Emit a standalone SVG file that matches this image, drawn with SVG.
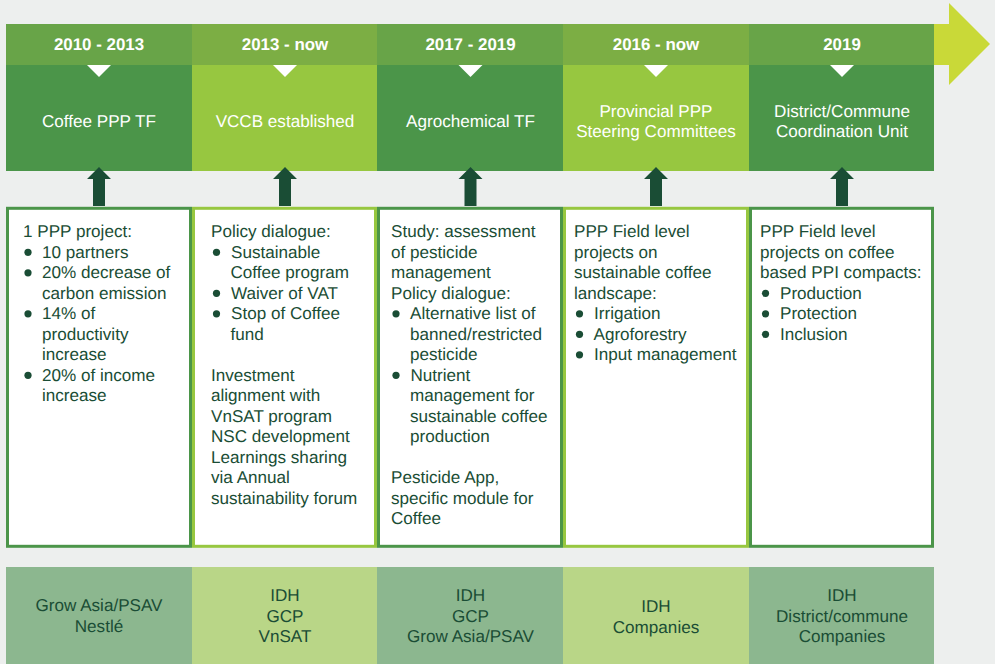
<svg xmlns="http://www.w3.org/2000/svg" width="995" height="664" viewBox="0 0 995 664">
<defs>
<style>
text{font-family:"Liberation Sans",Arial,sans-serif;text-rendering:geometricPrecision}
.yr{font-size:16.9px;font-weight:bold;fill:#fff;text-anchor:middle}
.ttl{font-size:17.100px;fill:#fff;text-anchor:middle}
.b{font-size:17.100px;fill:#1a4d35}
.c{font-size:17.100px;fill:#1a4d35;text-anchor:middle}
.dg{fill:#4b9549}.lg{fill:#97c740}
.hd{fill:#68a448}.hl{fill:#7cae44}
.bd{fill:#fff;stroke:#4b9549;stroke-width:3}
.bl{fill:#fff;stroke:#97c740;stroke-width:3}
.pd{fill:#8cb78f}.pl{fill:#b9d687}
.dot{fill:#1a4d35}
</style>
<path id="arr" d="M-6 206V179H-12L0 167L12 179H6V206Z" fill="#1a4d35"/>
<path id="tri" d="M-12 65H12L0 77Z" fill="#fff"/>
</defs>
<rect width="995" height="664" fill="#edefee"/>
<path id="timeline-arrow" d="M934 24H949V3L990 44L949 85V65H934Z" fill="#c9d938"/>
<g id="col1">
<rect class="hd" x="6" y="24" width="186" height="41"/><rect class="dg" x="6" y="65" width="186" height="106"/>
<use href="#tri" x="99"/>
<text class="yr" x="99" y="49.500">2010 - 2013</text>
<text class="ttl" x="99" y="127">Coffee PPP TF</text>
<rect class="bd" x="7.500" y="208.300" width="183" height="338"/>
<text class="b" x="23" y="237">1 PPP project:</text>
<circle class="dot" cx="28" cy="252.300" r="3.600"/><text class="b" x="42" y="257.500">10 partners</text>
<circle class="dot" cx="28" cy="272.800" r="3.600"/><text class="b" x="42" y="278">20% decrease of</text>
<text class="b" x="42" y="298.500">carbon emission</text>
<circle class="dot" cx="28" cy="313.800" r="3.600"/><text class="b" x="42" y="319">14% of</text>
<text class="b" x="42" y="339.500">productivity</text>
<text class="b" x="42" y="360">increase</text>
<circle class="dot" cx="28" cy="375.300" r="3.600"/><text class="b" x="42" y="380.500">20% of income</text>
<text class="b" x="42" y="401">increase</text>
<rect class="pd" x="6" y="567" width="186" height="97"/>
<text class="c" x="99" y="611">Grow Asia/PSAV</text><text class="c" x="99" y="632">Nestlé</text>
</g>
<g id="col2">
<rect class="hl" x="192" y="24" width="185" height="41"/><rect class="lg" x="192" y="65" width="185" height="106"/>
<use href="#tri" x="285"/>
<text class="yr" x="285" y="49.500">2013 - now</text>
<text class="ttl" x="285" y="127">VCCB established</text>
<rect class="bl" x="193.500" y="208.300" width="182" height="338"/>
<text class="b" x="211" y="237">Policy dialogue:</text>
<circle class="dot" cx="216.500" cy="252.300" r="3.600"/><text class="b" x="231" y="257.500">Sustainable</text>
<text class="b" x="230.500" y="278">Coffee program</text>
<circle class="dot" cx="216.500" cy="293.300" r="3.600"/><text class="b" x="231" y="298.500">Waiver of VAT</text>
<circle class="dot" cx="216.500" cy="313.800" r="3.600"/><text class="b" x="231" y="319">Stop of Coffee</text>
<text class="b" x="230.500" y="339.500">fund</text>
<text class="b" x="211" y="380.500">Investment</text>
<text class="b" x="211" y="401">alignment with</text>
<text class="b" x="211" y="421.500">VnSAT program</text>
<text class="b" x="211" y="442">NSC development</text>
<text class="b" x="211" y="462.500">Learnings sharing</text>
<text class="b" x="211" y="483">via Annual</text>
<text class="b" x="211" y="503.500">sustainability forum</text>
<rect class="pl" x="192" y="567" width="185" height="97"/>
<text class="c" x="285" y="600.500">IDH</text><text class="c" x="285" y="621.500">GCP</text><text class="c" x="285" y="642">VnSAT</text>
</g>
<g id="col3">
<rect class="hd" x="377" y="24" width="186" height="41"/><rect class="dg" x="377" y="65" width="186" height="106"/>
<use href="#tri" x="470.500"/>
<text class="yr" x="470.500" y="49.500">2017 - 2019</text>
<text class="ttl" x="470.500" y="127">Agrochemical TF</text>
<rect class="bd" x="378.500" y="208.300" width="183" height="338"/>
<text class="b" x="391" y="237">Study: assessment</text>
<text class="b" x="391" y="257.500">of pesticide</text>
<text class="b" x="391" y="278">management</text>
<text class="b" x="391" y="298.500">Policy dialogue:</text>
<circle class="dot" cx="396" cy="313.800" r="3.600"/><text class="b" x="410" y="319">Alternative list of</text>
<text class="b" x="410" y="339.500">banned/restricted</text>
<text class="b" x="410" y="360">pesticide</text>
<circle class="dot" cx="396" cy="375.300" r="3.600"/><text class="b" x="410.500" y="380.500">Nutrient</text>
<text class="b" x="410" y="401">management for</text>
<text class="b" x="410" y="421.500">sustainable coffee</text>
<text class="b" x="410" y="442">production</text>
<text class="b" x="391" y="483">Pesticide App,</text>
<text class="b" x="391" y="503.500">specific module for</text>
<text class="b" x="391" y="524">Coffee</text>
<rect class="pd" x="377" y="567" width="186" height="97"/>
<text class="c" x="470.500" y="600.500">IDH</text><text class="c" x="470.500" y="621.500">GCP</text><text class="c" x="470.500" y="642">Grow Asia/PSAV</text>
</g>
<g id="col4">
<rect class="hl" x="563" y="24" width="186" height="41"/><rect class="lg" x="563" y="65" width="186" height="106"/>
<use href="#tri" x="656"/>
<text class="yr" x="656" y="49.500">2016 - now</text>
<text class="ttl" x="656" y="116.500">Provincial PPP</text><text class="ttl" x="656" y="136.500">Steering Committees</text>
<rect class="bl" x="564.500" y="208.300" width="183" height="338"/>
<text class="b" x="574" y="237">PPP Field level</text>
<text class="b" x="574" y="257.500">projects on</text>
<text class="b" x="574" y="278">sustainable coffee</text>
<text class="b" x="574" y="298.500">landscape:</text>
<circle class="dot" cx="579.500" cy="313.800" r="3.600"/><text class="b" x="594" y="319">Irrigation</text>
<circle class="dot" cx="579.500" cy="334.300" r="3.600"/><text class="b" x="593.500" y="339.500">Agroforestry</text>
<circle class="dot" cx="579.500" cy="354.800" r="3.600"/><text class="b" x="594" y="360">Input management</text>
<rect class="pl" x="563" y="567" width="186" height="97"/>
<text class="c" x="656" y="611.500">IDH</text><text class="c" x="656" y="632.500">Companies</text>
</g>
<g id="col5">
<rect class="hd" x="749" y="24" width="185" height="41"/><rect class="dg" x="749" y="65" width="185" height="106"/>
<use href="#tri" x="842"/>
<text class="yr" x="842" y="49.500">2019</text>
<text class="ttl" x="842" y="116.500">District/Commune</text><text class="ttl" x="842" y="136.500">Coordination Unit</text>
<rect class="bd" x="750.500" y="208.300" width="182" height="338"/>
<text class="b" x="760" y="237">PPP Field level</text>
<text class="b" x="760" y="257.500">projects on coffee</text>
<text class="b" x="760" y="278">based PPI compacts:</text>
<circle class="dot" cx="765.500" cy="293.300" r="3.600"/><text class="b" x="780" y="298.500">Production</text>
<circle class="dot" cx="765.500" cy="313.800" r="3.600"/><text class="b" x="780" y="319">Protection</text>
<circle class="dot" cx="765.500" cy="334.300" r="3.600"/><text class="b" x="780" y="339.500">Inclusion</text>
<rect class="pd" x="749" y="567" width="185" height="97"/>
<text class="c" x="842" y="600.500">IDH</text><text class="c" x="842" y="621.500">District/commune</text><text class="c" x="842" y="642">Companies</text>
</g>
<g id="connectors">
<use href="#arr" x="99"/><use href="#arr" x="285"/><use href="#arr" x="470.500"/><use href="#arr" x="656"/><use href="#arr" x="842"/>
</g>
</svg>
